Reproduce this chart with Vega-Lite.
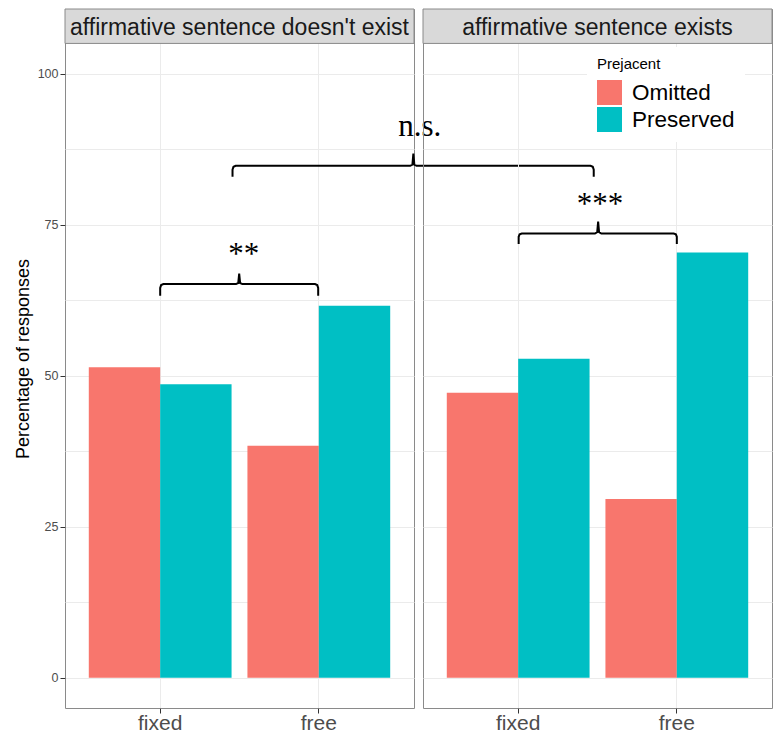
{
  "$schema": "https://vega.github.io/schema/vega-lite/v6.json",
  "background": "white",
  "padding": {"left": 13, "top": 8, "right": 2, "bottom": 0},
  "bounds": "flush",
  "spacing": 9,
  "datasets": {
    "bars": [
      {"panel": "affirmative sentence doesn't exist", "Condition": "fixed", "Prejacent": "Omitted", "pct": 51.4},
      {"panel": "affirmative sentence doesn't exist", "Condition": "fixed", "Prejacent": "Preserved", "pct": 48.6},
      {"panel": "affirmative sentence doesn't exist", "Condition": "free", "Prejacent": "Omitted", "pct": 38.4},
      {"panel": "affirmative sentence doesn't exist", "Condition": "free", "Prejacent": "Preserved", "pct": 61.6},
      {"panel": "affirmative sentence exists", "Condition": "fixed", "Prejacent": "Omitted", "pct": 47.2},
      {"panel": "affirmative sentence exists", "Condition": "fixed", "Prejacent": "Preserved", "pct": 52.8},
      {"panel": "affirmative sentence exists", "Condition": "free", "Prejacent": "Omitted", "pct": 29.6},
      {"panel": "affirmative sentence exists", "Condition": "free", "Prejacent": "Preserved", "pct": 70.4}
    ],
    "strips": [
      {"panel": "affirmative sentence doesn't exist"},
      {"panel": "affirmative sentence exists"}
    ],
    "brackets": [
      {"panel": "affirmative sentence doesn't exist", "bracket": "b1", "ord": 1, "x": 1.0, "y": 63.23},
      {"panel": "affirmative sentence doesn't exist", "bracket": "b1", "ord": 2, "x": 1.0, "y": 64.55},
      {"panel": "affirmative sentence doesn't exist", "bracket": "b1", "ord": 3, "x": 1.006, "y": 65.0},
      {"panel": "affirmative sentence doesn't exist", "bracket": "b1", "ord": 4, "x": 1.02, "y": 65.17},
      {"panel": "affirmative sentence doesn't exist", "bracket": "b1", "ord": 5, "x": 1.478, "y": 65.17},
      {"panel": "affirmative sentence doesn't exist", "bracket": "b1", "ord": 6, "x": 1.492, "y": 65.35},
      {"panel": "affirmative sentence doesn't exist", "bracket": "b1", "ord": 7, "x": 1.498, "y": 66.92},
      {"panel": "affirmative sentence doesn't exist", "bracket": "b1", "ord": 8, "x": 1.504, "y": 65.35},
      {"panel": "affirmative sentence doesn't exist", "bracket": "b1", "ord": 9, "x": 1.518, "y": 65.17},
      {"panel": "affirmative sentence doesn't exist", "bracket": "b1", "ord": 10, "x": 1.976, "y": 65.17},
      {"panel": "affirmative sentence doesn't exist", "bracket": "b1", "ord": 11, "x": 1.99, "y": 65.0},
      {"panel": "affirmative sentence doesn't exist", "bracket": "b1", "ord": 12, "x": 1.996, "y": 64.55},
      {"panel": "affirmative sentence doesn't exist", "bracket": "b1", "ord": 13, "x": 1.996, "y": 63.23},
      {"panel": "affirmative sentence doesn't exist", "bracket": "b3", "ord": 1, "x": 1.456, "y": 82.93},
      {"panel": "affirmative sentence doesn't exist", "bracket": "b3", "ord": 2, "x": 1.456, "y": 84.1},
      {"panel": "affirmative sentence doesn't exist", "bracket": "b3", "ord": 3, "x": 1.462, "y": 84.58},
      {"panel": "affirmative sentence doesn't exist", "bracket": "b3", "ord": 4, "x": 1.476, "y": 84.75},
      {"panel": "affirmative sentence doesn't exist", "bracket": "b3", "ord": 5, "x": 2.576, "y": 84.75},
      {"panel": "affirmative sentence doesn't exist", "bracket": "b3", "ord": 6, "x": 2.59, "y": 84.95},
      {"panel": "affirmative sentence doesn't exist", "bracket": "b3", "ord": 7, "x": 2.596, "y": 86.78},
      {"panel": "affirmative sentence doesn't exist", "bracket": "b3", "ord": 8, "x": 2.602, "y": 84.95},
      {"panel": "affirmative sentence doesn't exist", "bracket": "b3", "ord": 9, "x": 2.616, "y": 84.75},
      {"panel": "affirmative sentence doesn't exist", "bracket": "b3", "ord": 10, "x": 3.713, "y": 84.75},
      {"panel": "affirmative sentence doesn't exist", "bracket": "b3", "ord": 11, "x": 3.727, "y": 84.58},
      {"panel": "affirmative sentence doesn't exist", "bracket": "b3", "ord": 12, "x": 3.733, "y": 84.1},
      {"panel": "affirmative sentence doesn't exist", "bracket": "b3", "ord": 13, "x": 3.733, "y": 82.93},
      {"panel": "affirmative sentence exists", "bracket": "b2", "ord": 1, "x": 1.003, "y": 71.79},
      {"panel": "affirmative sentence exists", "bracket": "b2", "ord": 2, "x": 1.003, "y": 73.0},
      {"panel": "affirmative sentence exists", "bracket": "b2", "ord": 3, "x": 1.009, "y": 73.4},
      {"panel": "affirmative sentence exists", "bracket": "b2", "ord": 4, "x": 1.023, "y": 73.54},
      {"panel": "affirmative sentence exists", "bracket": "b2", "ord": 5, "x": 1.484, "y": 73.54},
      {"panel": "affirmative sentence exists", "bracket": "b2", "ord": 6, "x": 1.498, "y": 73.75},
      {"panel": "affirmative sentence exists", "bracket": "b2", "ord": 7, "x": 1.504, "y": 75.53},
      {"panel": "affirmative sentence exists", "bracket": "b2", "ord": 8, "x": 1.51, "y": 73.75},
      {"panel": "affirmative sentence exists", "bracket": "b2", "ord": 9, "x": 1.524, "y": 73.54},
      {"panel": "affirmative sentence exists", "bracket": "b2", "ord": 10, "x": 1.98, "y": 73.54},
      {"panel": "affirmative sentence exists", "bracket": "b2", "ord": 11, "x": 1.994, "y": 73.4},
      {"panel": "affirmative sentence exists", "bracket": "b2", "ord": 12, "x": 2.0, "y": 73.0},
      {"panel": "affirmative sentence exists", "bracket": "b2", "ord": 13, "x": 2.0, "y": 71.79}
    ],
    "sig": [
      {"panel": "affirmative sentence doesn't exist", "label": "**", "x": 1.527, "y": 68.44},
      {"panel": "affirmative sentence doesn't exist", "label": "n.s.", "x": 2.636, "y": 89.68},
      {"panel": "affirmative sentence exists", "label": "***", "x": 1.515, "y": 76.77}
    ]
  },
  "resolve": {"scale": {"color": "independent"}, "legend": {"color": "independent"}},
  "hconcat": [
    {
      "width": 349,
      "height": 699,
      "resolve": {"scale": {"x": "independent"}},
      "layer": [
        {
          "data": {"name": "bars"},
          "transform": [{"filter": {"field": "panel", "equal": "affirmative sentence doesn't exist"}}],
          "mark": {"type": "bar"},
          "encoding": {
            "x": {"field": "Condition", "type": "nominal", "sort": ["fixed", "free"],
              "scale": {"paddingInner": 0.1, "paddingOuter": 0.15},
              "axis": {"title": null, "labelAngle": 0, "labelFontSize": 21, "labelColor": "#4d4d4d", "labelPadding": -1, "tickSize": 5, "tickColor": "#333333", "tickWidth": 1, "domain": false, "grid": true, "gridColor": "#ebebeb", "gridWidth": 1}},
            "xOffset": {"field": "Prejacent", "type": "nominal", "sort": ["Omitted", "Preserved"], "scale": {"paddingInner": 0, "paddingOuter": 0}},
            "y": {"field": "pct", "type": "quantitative",
              "scale": {"domain": [-5, 110.7], "nice": false, "zero": false},
              "axis": {"values": [0, 12.5, 25, 37.5, 50, 62.5, 75, 87.5, 100],
                "labelExpr": "datum.value % 25 === 0 ? format(datum.value, 'd') : ''",
                "title": "Percentage of responses", "titleFontSize": 18, "titleFontWeight": "normal", "titleColor": "#000000", "titlePadding": 5,
                "labelFontSize": 12.5, "labelColor": "#4d4d4d", "labelPadding": 2,
                "tickSize": 5, "tickColor": "#333333", "tickWidth": 1,
                "tickOpacity": {"condition": {"test": "datum.value % 25 !== 0", "value": 0}, "value": 1},
                "domain": false, "grid": true, "gridColor": "#ebebeb", "gridWidth": 1}},
            "color": {"field": "Prejacent", "type": "nominal", "scale": {"domain": ["Omitted", "Preserved"], "range": ["#F8766D", "#00BFC4"]}, "legend": null}
          }
        },
        {
          "layer": [
            {
              "data": {"name": "strips"},
              "transform": [{"filter": {"field": "panel", "equal": "affirmative sentence doesn't exist"}}],
              "mark": {"type": "rect", "fill": "#d9d9d9", "stroke": "#8a8a8a", "strokeWidth": 1},
              "encoding": {
                "x": {"datum": 0.4, "type": "quantitative", "scale": {"domain": [0.4, 2.6], "nice": false, "zero": false}, "axis": null},
                "x2": {"datum": 2.6},
                "y": {"datum": 105, "type": "quantitative", "scale": {"domain": [-5, 110.7], "nice": false, "zero": false}},
                "y2": {"datum": 110.7}
              }
            },
            {
              "data": {"name": "strips"},
              "transform": [{"filter": {"field": "panel", "equal": "affirmative sentence doesn't exist"}}],
              "mark": {"type": "text", "font": "Liberation Sans", "fontSize": 23, "color": "#1a1a1a", "align": "center", "baseline": "alphabetic"},
              "encoding": {
                "x": {"datum": 1.5, "type": "quantitative", "scale": {"domain": [0.4, 2.6], "nice": false, "zero": false}, "axis": null},
                "y": {"datum": 106.38, "type": "quantitative", "scale": {"domain": [-5, 110.7], "nice": false, "zero": false}},
                "text": {"field": "panel"}
              }
            },
            {
              "data": {"name": "brackets"},
              "transform": [{"filter": {"field": "panel", "equal": "affirmative sentence doesn't exist"}}],
              "mark": {"type": "line", "color": "#000000", "strokeWidth": 2, "clip": false},
              "encoding": {
                "x": {"field": "x", "type": "quantitative", "scale": {"domain": [0.4, 2.6], "nice": false, "zero": false}, "axis": null},
                "y": {"field": "y", "type": "quantitative", "scale": {"domain": [-5, 110.7], "nice": false, "zero": false}},
                "detail": {"field": "bracket"},
                "order": {"field": "ord"}
              }
            },
            {
              "data": {"name": "sig"},
              "transform": [{"filter": {"field": "panel", "equal": "affirmative sentence doesn't exist"}}],
              "mark": {"type": "text", "font": "Liberation Serif", "fontSize": 31, "color": "#000000", "align": "center", "baseline": "alphabetic", "clip": false},
              "encoding": {
                "x": {"field": "x", "type": "quantitative", "scale": {"domain": [0.4, 2.6], "nice": false, "zero": false}, "axis": null},
                "y": {"field": "y", "type": "quantitative", "scale": {"domain": [-5, 110.7], "nice": false, "zero": false}},
                "text": {"field": "label"}
              }
            }
          ]
        }
      ]
    },
    {
      "width": 349,
      "height": 699,
      "resolve": {"scale": {"x": "independent"}},
      "layer": [
        {
          "data": {"name": "bars"},
          "transform": [{"filter": {"field": "panel", "equal": "affirmative sentence exists"}}],
          "mark": {"type": "bar"},
          "encoding": {
            "x": {"field": "Condition", "type": "nominal", "sort": ["fixed", "free"],
              "scale": {"paddingInner": 0.1, "paddingOuter": 0.15},
              "axis": {"title": null, "labelAngle": 0, "labelFontSize": 21, "labelColor": "#4d4d4d", "labelPadding": -1, "tickSize": 5, "tickColor": "#333333", "tickWidth": 1, "domain": false, "grid": true, "gridColor": "#ebebeb", "gridWidth": 1}},
            "xOffset": {"field": "Prejacent", "type": "nominal", "sort": ["Omitted", "Preserved"], "scale": {"paddingInner": 0, "paddingOuter": 0}},
            "y": {"field": "pct", "type": "quantitative",
              "scale": {"domain": [-5, 110.7], "nice": false, "zero": false},
              "axis": {"values": [0, 12.5, 25, 37.5, 50, 62.5, 75, 87.5, 100],
                "labels": false, "ticks": false, "domain": false, "title": null,
                "grid": true, "gridColor": "#ebebeb", "gridWidth": 1}},
            "color": {"field": "Prejacent", "type": "nominal",
              "scale": {"domain": ["Omitted", "Preserved"], "range": ["#F8766D", "#00BFC4"]},
              "legend": {"orient": "none", "legendX": 164, "legendY": 38, "title": "Prejacent",
                "titleFont": "Liberation Sans", "titleFontSize": 15, "titleFontWeight": "normal", "titleColor": "#000000", "titlePadding": 8,
                "labelFont": "Liberation Sans", "labelFontSize": 22.5, "labelColor": "#000000", "labelOffset": 10,
                "symbolType": "square", "symbolSize": 625, "symbolStrokeWidth": 0, "symbolOpacity": 1,
                "rowPadding": 2, "padding": 10, "fillColor": "white", "direction": "vertical"}}
          }
        },
        {
          "layer": [
            {
              "data": {"name": "strips"},
              "transform": [{"filter": {"field": "panel", "equal": "affirmative sentence exists"}}],
              "mark": {"type": "rect", "fill": "#d9d9d9", "stroke": "#8a8a8a", "strokeWidth": 1},
              "encoding": {
                "x": {"datum": 0.4, "type": "quantitative", "scale": {"domain": [0.4, 2.6], "nice": false, "zero": false}, "axis": null},
                "x2": {"datum": 2.6},
                "y": {"datum": 105, "type": "quantitative", "scale": {"domain": [-5, 110.7], "nice": false, "zero": false}},
                "y2": {"datum": 110.7}
              }
            },
            {
              "data": {"name": "strips"},
              "transform": [{"filter": {"field": "panel", "equal": "affirmative sentence exists"}}],
              "mark": {"type": "text", "font": "Liberation Sans", "fontSize": 23, "color": "#1a1a1a", "align": "center", "baseline": "alphabetic"},
              "encoding": {
                "x": {"datum": 1.5, "type": "quantitative", "scale": {"domain": [0.4, 2.6], "nice": false, "zero": false}, "axis": null},
                "y": {"datum": 106.38, "type": "quantitative", "scale": {"domain": [-5, 110.7], "nice": false, "zero": false}},
                "text": {"field": "panel"}
              }
            },
            {
              "data": {"name": "brackets"},
              "transform": [{"filter": {"field": "panel", "equal": "affirmative sentence exists"}}],
              "mark": {"type": "line", "color": "#000000", "strokeWidth": 2, "clip": false},
              "encoding": {
                "x": {"field": "x", "type": "quantitative", "scale": {"domain": [0.4, 2.6], "nice": false, "zero": false}, "axis": null},
                "y": {"field": "y", "type": "quantitative", "scale": {"domain": [-5, 110.7], "nice": false, "zero": false}},
                "detail": {"field": "bracket"},
                "order": {"field": "ord"}
              }
            },
            {
              "data": {"name": "sig"},
              "transform": [{"filter": {"field": "panel", "equal": "affirmative sentence exists"}}],
              "mark": {"type": "text", "font": "Liberation Serif", "fontSize": 31, "color": "#000000", "align": "center", "baseline": "alphabetic", "clip": false},
              "encoding": {
                "x": {"field": "x", "type": "quantitative", "scale": {"domain": [0.4, 2.6], "nice": false, "zero": false}, "axis": null},
                "y": {"field": "y", "type": "quantitative", "scale": {"domain": [-5, 110.7], "nice": false, "zero": false}},
                "text": {"field": "label"}
              }
            }
          ]
        }
      ]
    }
  ],
  "config": {
    "font": "Liberation Sans",
    "view": {"stroke": "#8a8a8a", "strokeWidth": 1},
    "axis": {"labelFont": "Liberation Sans", "titleFont": "Liberation Sans"}
  }
}
